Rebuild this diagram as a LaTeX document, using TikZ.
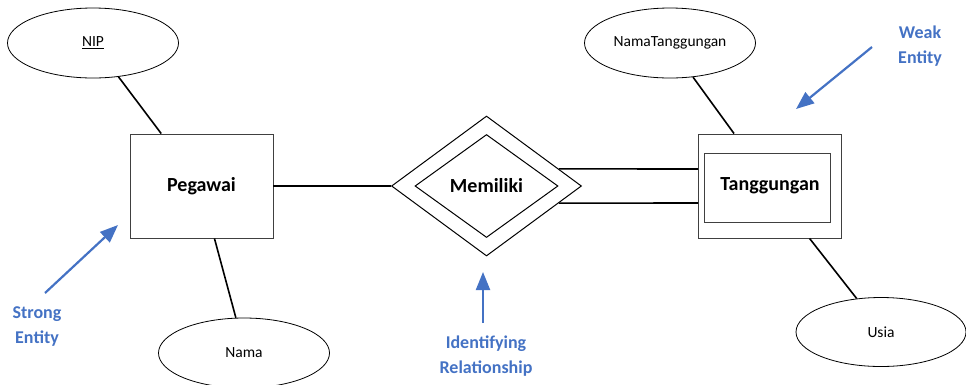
\documentclass[tikz,border=0pt]{standalone}
\usepackage{fontspec}
\setmainfont{Carlito}
\usetikzlibrary{shapes.geometric,arrows.meta,calc}
\definecolor{noteblue}{HTML}{4472C4}
\begin{document}
\begin{tikzpicture}[x=1pt,y=-1pt,
  attr/.style={draw=black, ellipse, minimum width=171pt, minimum height=70pt,
    inner sep=0pt, line width=0.8pt, font=\fontsize{15.5}{18}\selectfont},
  entity/.style={draw=black!75, rectangle, minimum width=143pt, minimum height=104pt,
    inner sep=0pt, line width=0.9pt, font=\bfseries\fontsize{20}{24}\selectfont},
  innerent/.style={draw=black!75, rectangle, minimum width=126pt, minimum height=69pt,
    inner sep=0pt, line width=0.9pt},
  rel/.style={draw=black, diamond, minimum width=190pt, minimum height=140pt,
    inner sep=0pt, line width=1pt},
  innerrel/.style={draw=black, diamond, minimum width=143pt, minimum height=103pt,
    inner sep=0pt, line width=1pt, font=\bfseries\fontsize{20}{24}\selectfont},
  conn/.style={line width=1.6pt, draw=black},
  note/.style={text=noteblue, font=\bfseries\fontsize{18}{25}\selectfont, align=center},
  pointer/.style={draw=noteblue, line width=2.2pt, -{Triangle[length=18pt,width=14pt]}}
]
\useasboundingbox (0,0) rectangle (966,384);
\clip (0,0) rectangle (966,384);

% entities
\node[entity] (peg) at (201.5,186) {Pegawai};
\node[innerent] (tngin) at (767,187.5) {};
\node[entity] (tng) at (770,186) {Tanggungan};

% identifying relationship (double diamond)
\node[rel] (mem) at (486.5,186) {};
\node[innerrel] (memin) at (486.5,186) {Memiliki};

% attributes
\node[attr] (nip) at (93,43) {\underline{NIP}};
\node[attr] (nama) at (244,353) {Nama};
\node[attr] (ntg) at (670,43) {NamaTanggungan};
\node[attr, minimum width=170pt, minimum height=69pt] (usia) at (881,332) {Usia};

% attribute links
\draw[conn] (nip.-53) -- ($(peg.north west)!0.22!(peg.north east)$);
\draw[conn] ($(peg.south west)!0.59!(peg.south east)$) -- (nama.103);
\draw[conn] (ntg.-56) -- ($(tng.north west)!0.25!(tng.north east)$);
\draw[conn] ($(tng.south west)!0.775!(tng.south east)$) -- (usia.126);

% relationship links
\draw[conn] (peg.east) -- (mem.west);
\draw[conn] ($(mem.east)!0.243!(mem.north)$) -- ([yshift=17pt]tng.west);
\draw[conn] ($(mem.east)!0.243!(mem.south)$) -- ([yshift=-17pt]tng.west);

% annotations
\node[note] (weak) at (920,46) {Weak\\Entity};
\node[note] (strong) at (37,327) {Strong\\Entity};
\node[note] (ident) at (486,356) {Identifying\\Relationship};

\coordinate (weakTail) at (872,47);
\coordinate (weakTip) at (796,109);
\coordinate (strongTail) at (45,293);
\coordinate (strongTip) at (118,225);
\coordinate (identTail) at (483,323);
\coordinate (identTip) at (483,272);

\draw[pointer] (weakTail) -- (weakTip);
\draw[pointer] (strongTail) -- (strongTip);
\draw[pointer] (identTail) -- (identTip);
\end{tikzpicture}
\end{document}
